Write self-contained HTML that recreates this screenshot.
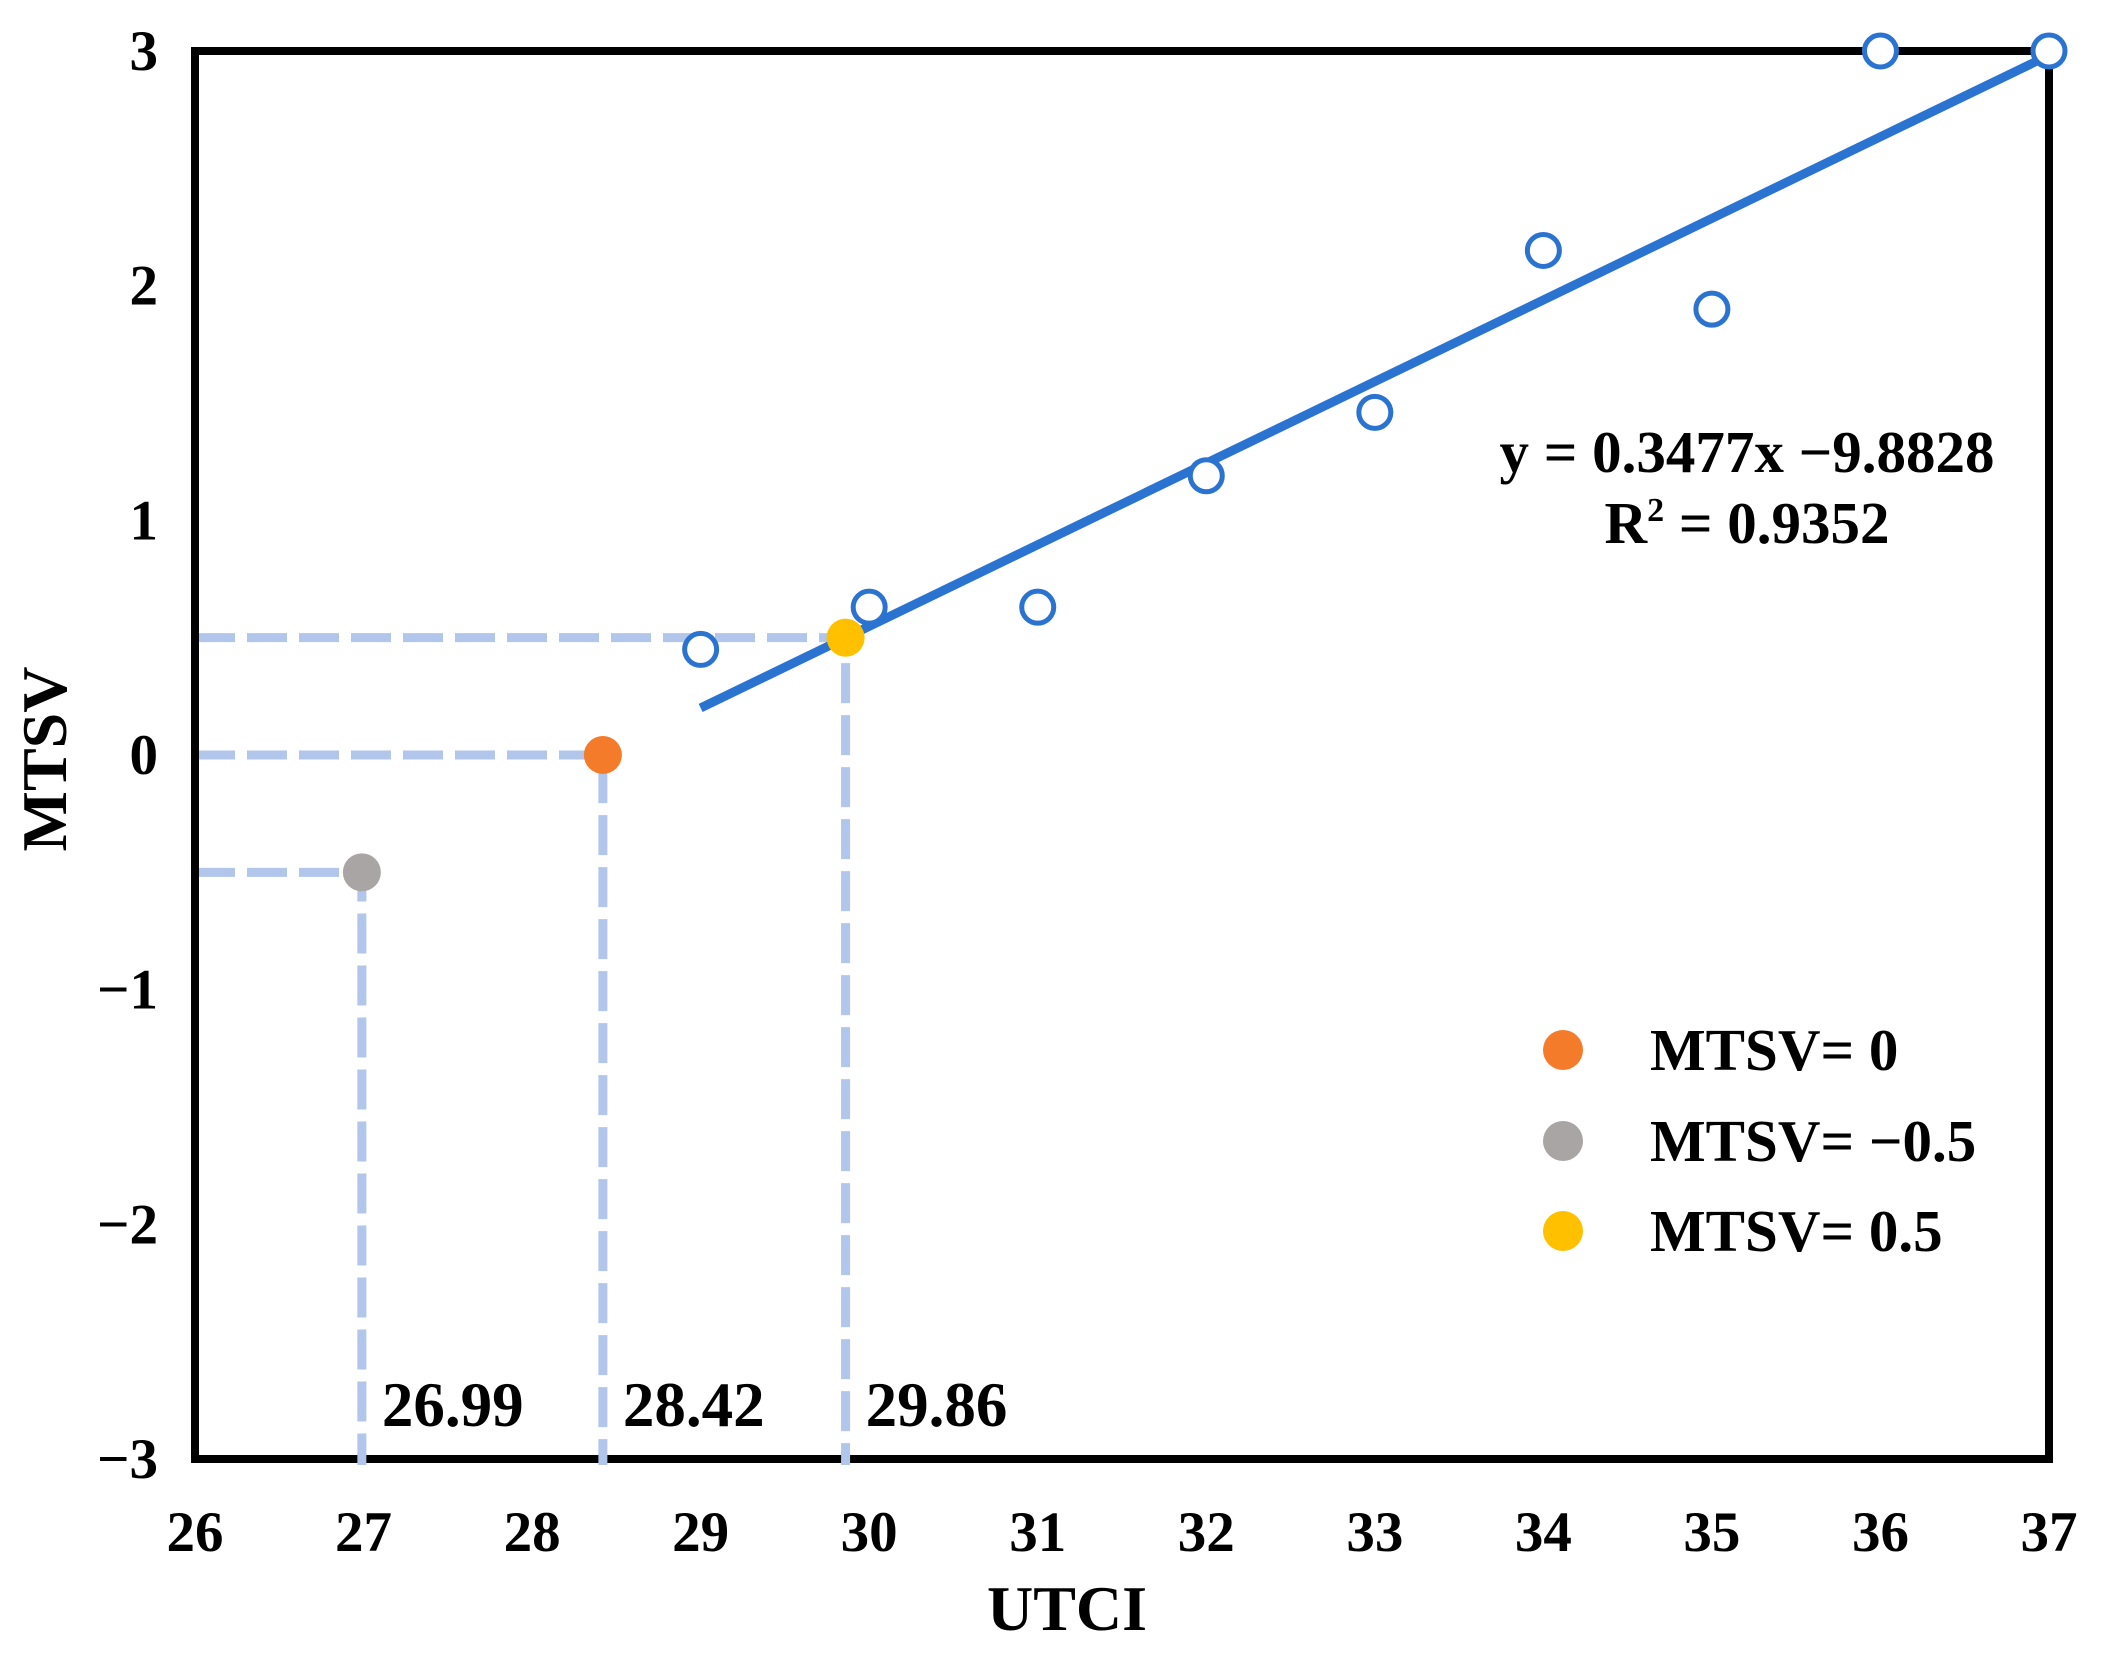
<!DOCTYPE html>
<html><head><meta charset="utf-8"><style>
html,body{margin:0;padding:0;background:#fff;}
svg{display:block;}
text{font-family:"Liberation Serif",serif;font-weight:bold;fill:#000;}
</style></head><body>
<svg id="chart" width="2105" height="1660" viewBox="0 0 2105 1660" xmlns="http://www.w3.org/2000/svg">
<g id="grid"></g>
</svg>
<script>
const xTicks=[26,27,28,29,30,31,32,33,34,35,36,37];
const yTicks=[3,2,1,0,-1,-2,-3];
const obsX=[29,30,31,32,33,34,35,36,37];
const obsY=[0.45,0.63,0.63,1.19,1.46,2.15,1.90,3.0,3.0];
const slope=0.3477, intercept=-9.8828, r2=0.9352;
const fitRange=[29,37];
const threshVals=[0,-0.5,0.5];
const threshX=[28.42,26.99,29.86];
const threshLabels=["MTSV= 0","MTSV= \u22120.5","MTSV= 0.5"];
const threshColors=["#F47B2A","#A9A5A5","#FFC000"];

const L=195,R=2049,T=51,B=1459;
const X=v=>L+(v-26)/(37-26)*(R-L);
const Y=v=>T+(3-v)/6*(B-T);
const NS="http://www.w3.org/2000/svg";
const svg=document.getElementById('chart');
function mk(tag,attrs,parent){const e=document.createElementNS(NS,tag);for(const k in attrs)e.setAttribute(k,attrs[k]);(parent||svg).appendChild(e);return e;}

threshVals.forEach((v,i)=>{
  const g=mk('path',{d:`M${L} ${Y(v)} H${X(threshX[i])} V${B}`,fill:'none',stroke:'#B1C6EA','stroke-width':9,'stroke-dasharray':'40 12'});
  
  
});

const fr=mk('rect',{x:L,y:T,width:R-L,height:B-T,fill:'none',stroke:'#000','stroke-width':8});



threshVals.forEach((v,i)=>{
  const g=mk('line',{x1:X(threshX[i]),x2:X(threshX[i]),y1:B-6,y2:B+6,stroke:'#B1C6EA','stroke-width':9});
  
  
});

const fl=mk('line',{x1:X(fitRange[0]),y1:Y(slope*fitRange[0]+intercept),x2:X(fitRange[1]),y2:Y(slope*fitRange[1]+intercept),stroke:'#2A73D0','stroke-width':9});



obsX.forEach((x,i)=>{
  const c=mk('circle',{cx:X(x),cy:Y(obsY[i]),r:16,fill:'#fff',stroke:'#2A73D0','stroke-width':5});
  
  
});

threshVals.forEach((v,i)=>{
  const c=mk('circle',{cx:X(threshX[i]),cy:Y(v),r:19,fill:threshColors[i]});
  
  
  const t=mk('text',{x:X(threshX[i])+20,y:B-33,'font-size':63});
  t.textContent=threshX[i].toFixed(2);
  
  
});

xTicks.forEach(v=>{
  const t=mk('text',{x:X(v),y:1551,'font-size':57,'text-anchor':'middle'});
  t.textContent=v;
  
  
});
yTicks.forEach(v=>{
  const t=mk('text',{x:158,y:Y(v)+19,'font-size':57,'text-anchor':'end'});
  t.textContent=v<0?'\u2212'+(-v):v;
  
  
});

const xt=mk('text',{x:1067,y:1630,'font-size':64,'text-anchor':'middle'});
xt.textContent='UTCI';


const yt=mk('text',{x:0,y:0,'font-size':64,'text-anchor':'middle',transform:'translate(66,759) rotate(-90)'});
yt.textContent='MTSV';



const eq=mk('text',{x:1747,y:472,'font-size':59,'text-anchor':'middle'});
eq.textContent='y = '+slope+'x \u2212'+(-intercept);


const r2t=mk('text',{x:1747,y:543,'font-size':59,'text-anchor':'middle'});
r2t.innerHTML='R<tspan dy="-22" font-size="34">2</tspan><tspan dy="22"> = '+r2+'</tspan>';



const legY=[1050,1141,1231];
threshLabels.forEach((lab,i)=>{
  const c=mk('circle',{cx:1563,cy:legY[i],r:20,fill:threshColors[i]});
  
  
  const t=mk('text',{x:1650,y:legY[i]+20,'font-size':59});
  t.textContent=lab;
  
  
});
</script>
</body></html>
